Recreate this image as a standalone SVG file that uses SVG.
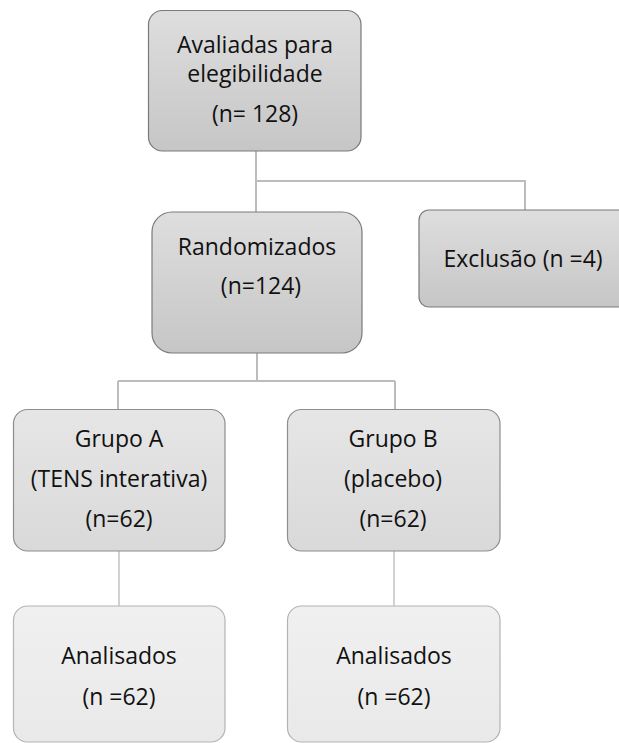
<svg xmlns="http://www.w3.org/2000/svg" width="619" height="743" viewBox="0 0 619 743">
  <defs>
    <linearGradient id="gDark" x1="0" y1="0" x2="0" y2="1">
      <stop offset="0" stop-color="#dedede"/>
      <stop offset="1" stop-color="#c6c6c6"/>
    </linearGradient>
    <linearGradient id="gMid" x1="0" y1="0" x2="0" y2="1">
      <stop offset="0" stop-color="#e6e6e6"/>
      <stop offset="1" stop-color="#d9d9d9"/>
    </linearGradient>
    <linearGradient id="gLight" x1="0" y1="0" x2="0" y2="1">
      <stop offset="0" stop-color="#f0f0f0"/>
      <stop offset="1" stop-color="#e9e9e9"/>
    </linearGradient>
  </defs>
  <style>
    .box-dark { fill: url(#gDark); stroke: #7a7a7a; stroke-width: 1.2; }
    .box-mid { fill: url(#gMid); stroke: #8e8e8e; stroke-width: 1.2; }
    .box-light { fill: url(#gLight); stroke: #b4b4b4; stroke-width: 1.2; }
    .lbl { font-family: "Open Sans", "Liberation Sans", sans-serif; font-size: 23px; fill: #111; text-anchor: middle; }
    .conn { fill: none; stroke: #bcbcbc; stroke-width: 2; }
    .conn-light { fill: none; stroke: #d2d2d2; stroke-width: 2; }
  </style>

  <!-- connectors -->
  <g id="connectors">
    <path class="conn" d="M256,151 V181 M256,181 H525 V210 M256,181 V212"/>
    <path class="conn" d="M257,353 V381 M118,381 H395 M118,381 V409 M395,381 V409"/>
    <path class="conn-light" d="M119,551 V606 M394,551 V606"/>
  </g>

  <g id="avaliadas">
    <rect class="box-dark" x="148.5" y="10.5" width="212.5" height="140.5" rx="14"/>
    <text class="lbl" x="255" y="53">Avaliadas para</text>
    <text class="lbl" x="255" y="82">elegibilidade</text>
    <text class="lbl" x="255" y="122">(n= 128)</text>
  </g>

  <g id="randomizados">
    <rect class="box-dark" x="152" y="212" width="210" height="141" rx="20"/>
    <text class="lbl" x="257" y="255">Randomizados</text>
    <text class="lbl" x="261" y="294">(n=124)</text>
  </g>

  <g id="exclusao">
    <rect class="box-dark" x="419" y="210" width="212" height="97" rx="10"/>
    <text class="lbl" x="523" y="267">Exclusão (n =4)</text>
  </g>

  <g id="grupo-a">
    <rect class="box-mid" x="13.5" y="409.5" width="211.5" height="141.5" rx="14"/>
    <text class="lbl" x="119" y="447">Grupo A</text>
    <text class="lbl" x="119" y="487">(TENS interativa)</text>
    <text class="lbl" x="119" y="527">(n=62)</text>
  </g>

  <g id="grupo-b">
    <rect class="box-mid" x="287.5" y="409.5" width="212.5" height="141.5" rx="14"/>
    <text class="lbl" x="393" y="447">Grupo B</text>
    <text class="lbl" x="393" y="487">(placebo)</text>
    <text class="lbl" x="393" y="527">(n=62)</text>
  </g>

  <g id="analisados-a">
    <rect class="box-light" x="13.5" y="606" width="211.5" height="136" rx="14"/>
    <text class="lbl" x="119" y="664">Analisados</text>
    <text class="lbl" x="119" y="705">(n =62)</text>
  </g>

  <g id="analisados-b">
    <rect class="box-light" x="287.5" y="606" width="212.5" height="136" rx="14"/>
    <text class="lbl" x="394" y="664">Analisados</text>
    <text class="lbl" x="394" y="705">(n =62)</text>
  </g>
</svg>
